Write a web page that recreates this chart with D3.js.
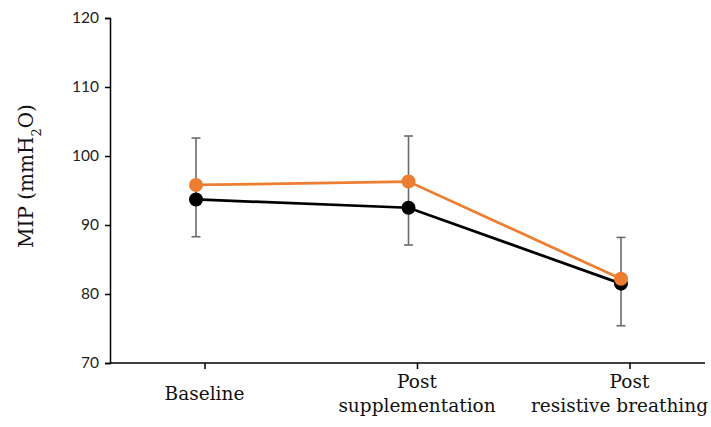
<!DOCTYPE html>
<html>
<head>
<meta charset="utf-8">
<script src="https://cdn.jsdelivr.net/npm/d3@7"></script>
<style>
  body { margin: 0; background: #fff; }
  svg { display: block; }
</style>
</head>
<body>
<div id="chart"></div>
<script>
let width = 711;
let height = 427;

// data
let categories = [["Baseline"], ["Post", "supplementation"], ["Post", "resistive breathing"]];
let blackValues = [93.7, 92.5, 81.5];
let orangeValues = [95.8, 96.3, 82.2];
let errLow = [88.3, 87.1, 75.4];
let errHigh = [102.6, 102.9, 88.2];
let yTicks = [70, 80, 90, 100, 110, 120];

let keys = categories.map(c => c.join(" "));

let svg = d3.select("#chart")
    .append("svg")
    .attr("width", width)
    .attr("height", height);

let y = d3.scaleLinear().domain([70, 120]).range([363, 18]);
// markers sit a little left of the category ticks (as in the original)
let x = d3.scalePoint().domain(keys).range([196, 621]);
let tickShift = 8.5;

// y axis
let yAxis = svg.append("g")
    .attr("transform", "translate(110,0)")
    .call(d3.axisLeft(y).tickValues(yTicks).tickSize(5).tickPadding(6));
yAxis.select(".domain").attr("stroke", "#000").attr("stroke-width", 1.5);
yAxis.selectAll(".tick line").attr("stroke", "#000").attr("stroke-width", 1.5);
yAxis.selectAll(".tick text")
    .style("font-family", "Lato, 'Open Sans', sans-serif")
    .style("font-size", "15.5px")
    .attr("fill", "#222");

// x axis
svg.append("line")
    .attr("x1", 110).attr("x2", 705)
    .attr("y1", y(70)).attr("y2", y(70))
    .attr("stroke", "#000").attr("stroke-width", 1.5);

let xAxis = svg.append("g")
    .attr("transform", `translate(${tickShift},${y(70)})`)
    .call(d3.axisBottom(x).tickSize(6).tickFormat(""));
xAxis.select(".domain").remove();
xAxis.selectAll(".tick line").attr("stroke", "#000").attr("stroke-width", 1.5);

categories.forEach((lines, i) => {
    let cx = x(keys[i]) + tickShift;
    let startY = lines.length == 1 ? 400 : 388;
    lines.forEach((ln, j) => {
        let t = svg.append("text")
            .attr("x", cx)
            .attr("y", startY + j * 24)
            .attr("text-anchor", "middle")
            .style("font-family", "'DejaVu Serif', serif")
            .style("font-size", "18.5px")
            .attr("fill", "#111")
            .text(ln);
        let w = t.node().getComputedTextLength();
        if (cx + w / 2 > width - 3) { // keep it inside the page, like the original
            t.attr("x", width - 3 - w / 2);
        }
    });
});

// y title
svg.append("text")
    .attr("transform", "translate(33,176) rotate(-90)")
    .attr("text-anchor", "middle")
    .style("font-family", "'DejaVu Serif', serif")
    .style("font-size", "20px")
    .attr("fill", "#111")
    .html('MIP (mmH<tspan baseline-shift="sub" font-size="13px">2</tspan>O)');

// error bars
let eb = svg.append("g").attr("stroke", "#6b6b6b").attr("stroke-width", 1.6);
keys.forEach((k, i) => {
    let cx = x(k);
    eb.append("line").attr("x1", cx).attr("x2", cx).attr("y1", y(errLow[i])).attr("y2", y(errHigh[i]));
    eb.append("line").attr("x1", cx - 4.5).attr("x2", cx + 4.5).attr("y1", y(errLow[i])).attr("y2", y(errLow[i]));
    eb.append("line").attr("x1", cx - 4.5).attr("x2", cx + 4.5).attr("y1", y(errHigh[i])).attr("y2", y(errHigh[i]));
});

let line = d3.line().x((d, i) => x(keys[i])).y(d => y(d));

function drawSeries(values, colour) {
    svg.append("path")
        .datum(values)
        .attr("d", line)
        .attr("fill", "none")
        .attr("stroke", colour)
        .attr("stroke-width", 2.75);
    svg.append("g")
        .selectAll("circle")
        .data(values)
        .enter()
        .append("circle")
        .attr("cx", (d, i) => x(keys[i]))
        .attr("cy", d => y(d))
        .attr("r", 7)
        .attr("fill", colour);
}

drawSeries(blackValues, "#000000");
drawSeries(orangeValues, "#ED7D31");
</script>
</body>
</html>
